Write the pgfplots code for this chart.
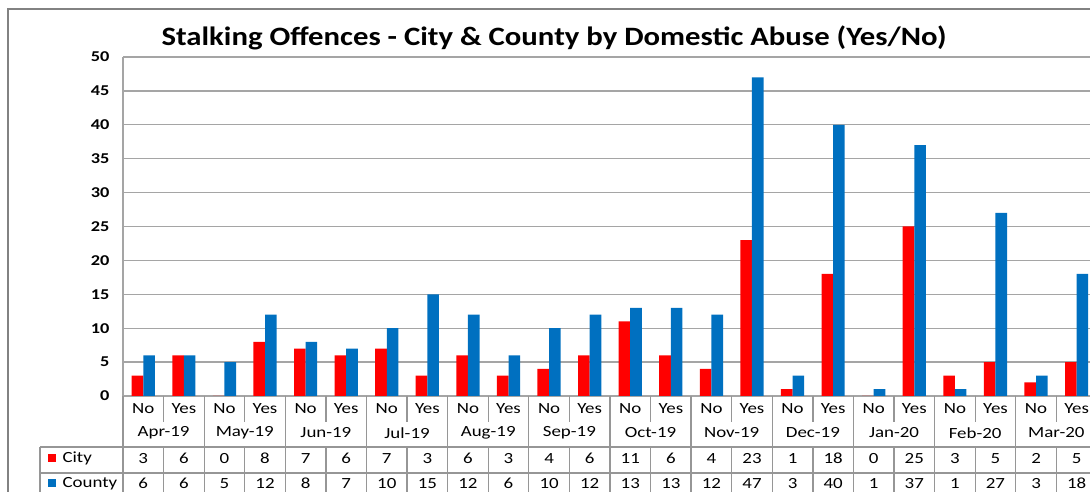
\documentclass[border=0pt]{standalone}
\usepackage{fontspec}
\setmainfont{Carlito}[FakeStretch=1.22]
\newfontfamily\titlefont{Carlito}[FakeStretch=1.16]
\usepackage{pgfplots}
\usepackage{pgfplotstable}
\pgfplotsset{compat=1.18}
\definecolor{cityred}{RGB}{255,0,0}
\definecolor{countyblue}{RGB}{0,112,192}
\definecolor{gridgray}{RGB}{165,165,165}
\definecolor{tblgray}{RGB}{150,150,150}
\definecolor{bordergray}{RGB}{130,130,130}

\pgfplotstableread{
x city county
0 3 6
1 6 6
2 0 5
3 8 12
4 7 8
5 6 7
6 7 10
7 3 15
8 6 12
9 3 6
10 4 10
11 6 12
12 11 13
13 6 13
14 4 12
15 23 47
16 1 3
17 18 40
18 0 1
19 25 37
20 3 1
21 5 27
22 2 3
23 5 18
}\data

\begin{document}
\begin{tikzpicture}[x=1pt,y=1pt]
\useasboundingbox (0,0) rectangle (1090,492);
\clip (0,0) rectangle (1090,492);
\def\cw{40.58}
\begin{axis}[at={(123pt,96pt)}, anchor=south west, scale only axis,
  width=973.9pt, height=339pt,
  xmin=-0.5, xmax=23.5, ymin=0, ymax=50,
  ybar=0pt, bar width=11.6pt,
  ytick={0,5,...,50}, xtick=\empty,
  ymajorgrids, grid style={gridgray, line width=1.3pt},
  axis x line*=bottom, axis y line*=left,
  axis line style={gridgray, line width=1.3pt, -},
  major tick length=0pt,
  /pgf/number format/assume math mode=true,
  yticklabel style={font=\fontsize{15}{15}\selectfont\bfseries, xshift=-10pt},
  clip=false]
\addplot[fill=cityred, draw=none] table[x=x,y=city]{\data};
\addplot[fill=countyblue, draw=none] table[x=x,y=county]{\data};
\end{axis}

% outer chart border
\draw[bordergray, line width=1.3] (8,0) -- (8,483) -- (1095,483);

% title
\node[font=\titlefont\fontsize{26.5}{26.5}\selectfont\bfseries, anchor=base] at (554,446) {Stalking Offences - City \& County by Domestic Abuse (Yes/No)};

% data table lines
\begin{scope}[tblgray, line width=1.3]
\foreach \k in {0,...,12} \draw ({123+2*\k*\cw},96) -- ({123+2*\k*\cw},0);
\foreach \k in {0,...,11} {
  \draw ({123+(2*\k+1)*\cw},96) -- ({123+(2*\k+1)*\cw},70);
  \draw ({123+(2*\k+1)*\cw},45) -- ({123+(2*\k+1)*\cw},0);
}
\draw (40,45) -- (1095,45);
\draw (40,19) -- (1095,19);
\draw (40,45) -- (40,0);
\end{scope}

\begin{scope}[font=\fontsize{15.5}{15.5}\selectfont]
\foreach \k in {0,...,11} {
  \node at ({123+(2*\k+0.5)*\cw},83) {No};
  \node at ({123+(2*\k+1.5)*\cw},83) {Yes};
}
\foreach \m [count=\k from 0] in {Apr-19,May-19,Jun-19,Jul-19,Aug-19,Sep-19,Oct-19,Nov-19,Dec-19,Jan-20,Feb-20,Mar-20}
  \node at ({123+(2*\k+1)*\cw},59) {\m};
\foreach \i in {0,...,23} {
  \pgfplotstablegetelem{\i}{city}\of\data
  \node at ({123+(\i+0.5)*\cw},33.5) {\pgfplotsretval};
  \pgfplotstablegetelem{\i}{county}\of\data
  \node at ({123+(\i+0.5)*\cw},8.5) {\pgfplotsretval};
}
\fill[cityred] (48,29.5) rectangle (56,37.5);
\node[anchor=west] at (59,33.5) {City};
\fill[countyblue] (48,4.5) rectangle (56,12.5);
\node[anchor=west] at (59,8.5) {County};
\end{scope}
\end{tikzpicture}
\end{document}
